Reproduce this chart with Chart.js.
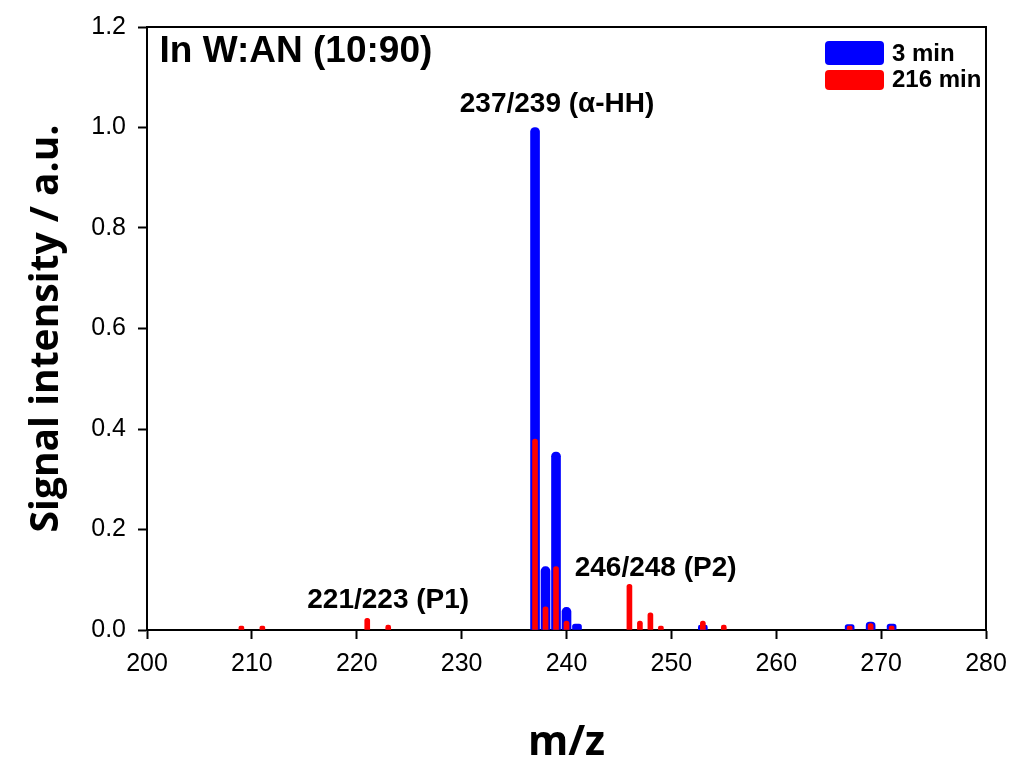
<!DOCTYPE html>
<html>
<head>
<meta charset="utf-8">
<script src="https://cdn.jsdelivr.net/npm/chart.js@4/dist/chart.umd.min.js"></script>
<style>
  html, body { margin: 0; padding: 0; background: #fff; }
  #wrap { width: 1013px; height: 762px; }
</style>
</head>
<body>
<div id="wrap"><canvas id="spectrum"></canvas></div>
<script>
// m/z peaks and relative intensities
const mzEarly = [237, 238, 239, 240, 241, 253, 267, 269, 271];
const intEarly = [1.0, 0.126, 0.354, 0.045, 0.012, 0.01, 0.011, 0.016, 0.012];
const mzLate = [209, 211, 221, 223, 237, 238, 239, 240, 246, 247, 248, 249, 253, 255, 267, 269, 271];
const intLate = [0.008, 0.008, 0.023, 0.01, 0.38, 0.046, 0.126, 0.018, 0.091, 0.018, 0.034, 0.008, 0.018, 0.01, 0.008, 0.013, 0.008];
const seriesNames = ["3 min", "216 min"];

const xTicks = [200, 210, 220, 230, 240, 250, 260, 270, 280];
const yTicks = [0, 0.2, 0.4, 0.6, 0.8, 1.0, 1.2];

// peak labels: [text, m/z, intensity]
const peakLabels = [
  ["237/239 (\u03b1-HH)", 239.1, 1.046],
  ["246/248 (P2)", 248.5, 0.123],
  ["221/223 (P1)", 223.0, 0.06]
];
const panelTitle = "In W:AN (10:90)";

const toPoints = (xs, ys) => xs.map((x, i) => ({ x: x, y: ys[i] }));

const sans = "'Liberation Sans', Arial, sans-serif";
const titleSans = "'Open Sans', 'Noto Sans', sans-serif";

const extras = {
  id: "extras",
  afterDatasetsDraw(chart) {
    const { ctx, chartArea: a, scales } = chart;
    ctx.save();
    // box frame
    ctx.strokeStyle = "#000";
    ctx.lineWidth = 2;
    ctx.beginPath();
    ctx.moveTo(a.left, a.top);
    ctx.lineTo(a.right, a.top);
    ctx.lineTo(a.right, a.bottom);
    ctx.stroke();

    ctx.fillStyle = "#000";
    ctx.font = "bold 37px " + sans;
    ctx.textAlign = "left";
    ctx.textBaseline = "middle";
    ctx.fillText(panelTitle, scales.x.getPixelForValue(201.2), scales.y.getPixelForValue(1.15));

    ctx.font = "bold 28px " + sans;
    ctx.textAlign = "center";
    peakLabels.forEach(([t, x, y]) => {
      ctx.fillText(t, scales.x.getPixelForValue(x), scales.y.getPixelForValue(y));
    });

    // legend
    const lx = a.right - 161;
    let ly = a.top + 14;
    ctx.font = "bold 24px " + sans;
    ctx.textAlign = "left";
    chart.data.datasets.forEach((ds, i) => {
      ctx.fillStyle = ds.backgroundColor;
      ctx.beginPath();
      ctx.roundRect(lx, ly, 59, i === 0 ? 24 : 20, 4);
      ctx.fill();
      ctx.fillStyle = "#000";
      ctx.fillText(ds.label, lx + 67, ly + (i === 0 ? 13 : 10));
      ly += 29;
    });
    ctx.restore();
  }
};

new Chart(document.getElementById("spectrum"), {
  type: "bar",
  data: {
    datasets: [
      {
        label: seriesNames[0],
        data: toPoints(mzEarly, intEarly),
        backgroundColor: "#0000ff",
        barThickness: 9,
        borderRadius: 4.5,
        grouped: false,
        order: 2
      },
      {
        label: seriesNames[1],
        data: toPoints(mzLate, intLate),
        backgroundColor: "#ff0000",
        barThickness: 5,
        borderRadius: 2.5,
        grouped: false,
        order: 1
      }
    ]
  },
  options: {
    responsive: true,
    maintainAspectRatio: false,
    animation: false,
    layout: { padding: { top: 25, right: 27, left: 0, bottom: 0 } },
    plugins: { legend: { display: false }, tooltip: { enabled: false } },
    scales: {
      x: {
        type: "linear",
        min: 200,
        max: 280,
        offset: false,
        afterBuildTicks: (s) => { s.ticks = xTicks.map(v => ({ value: v })); },
        afterFit: (s) => { s.height = 132; s.paddingLeft = 0; s.paddingRight = 0; },
        grid: { display: true, drawOnChartArea: false, drawTicks: true, tickLength: 9, tickWidth: 2, tickColor: "#000", offset: false },
        border: { display: true, color: "#000", width: 2 },
        ticks: { color: "#000", font: { family: sans, size: 25 }, padding: 10, maxRotation: 0 },
        title: { display: true, text: "m/z", color: "#000", font: { family: titleSans, size: 41, weight: "bold" }, padding: { top: 0, bottom: -6 } }
      },
      y: {
        min: 0,
        max: 1.2,
        afterBuildTicks: (s) => { s.ticks = yTicks.map(v => ({ value: v })); },
        afterFit: (s) => { s.width = 147; },
        grid: { display: true, drawOnChartArea: false, drawTicks: true, tickLength: 9, tickWidth: 2, tickColor: "#000" },
        border: { display: true, color: "#000", width: 2 },
        ticks: { color: "#000", font: { family: sans, size: 25 }, padding: 12, callback: (v) => Number(v).toFixed(1) },
        title: { display: true, text: "Signal intensity / a.u.", color: "#000", font: { family: titleSans, size: 39, weight: "bold" }, padding: { top: 23, bottom: 0 } }
      }
    }
  },
  plugins: [extras]
});
</script>
</body>
</html>
